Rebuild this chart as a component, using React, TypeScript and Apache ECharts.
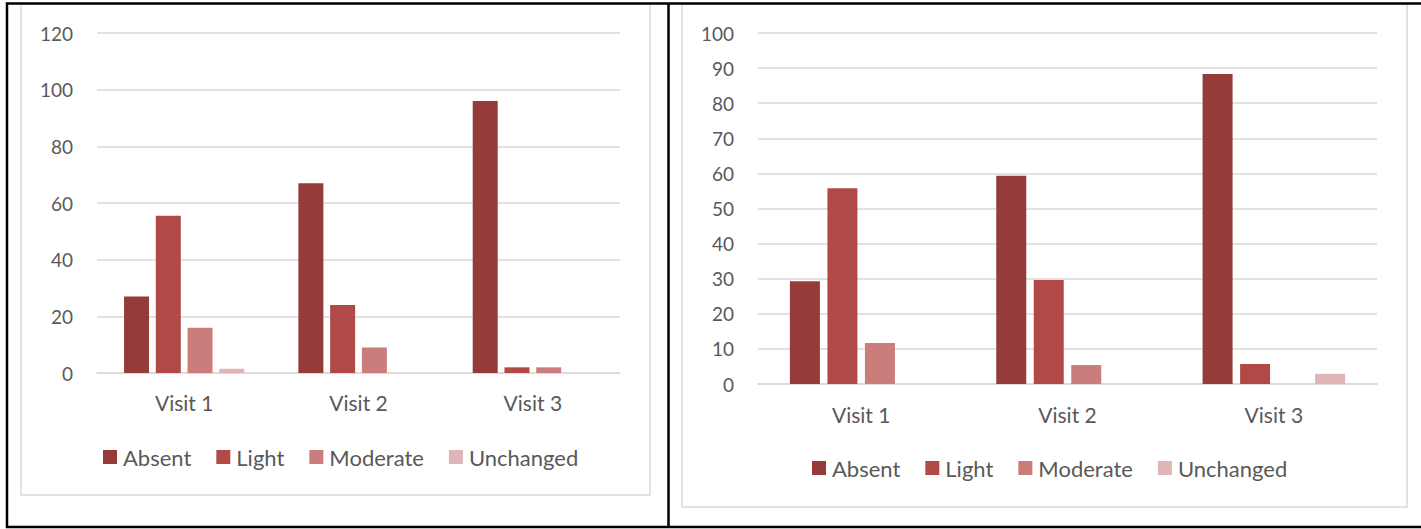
import React, { useEffect, useRef } from "react";
import * as echarts from "echarts";

const categories = ["Visit 1", "Visit 2", "Visit 3"];
const seriesNames = ["Absent", "Light", "Moderate", "Unchanged"];
const colors = ["#953B3A", "#B14A47", "#CB7D7B", "#DFB6B5"];

// Left chart values
const leftAbsent = [27, 67, 96];
const leftLight = [55.5, 24, 2];
const leftModerate = [16, 9, 2];
const leftUnchanged = [1.5, 0, 0];

// Right chart values
const rightAbsent = [29.3, 59.3, 88.3];
const rightLight = [55.8, 29.6, 5.7];
const rightModerate = [11.7, 5.4, 0];
const rightUnchanged = [0, 0, 2.9];

const leftTicks = { min: 0, max: 120, interval: 20 };
const rightTicks = { min: 0, max: 100, interval: 10 };

const FONT = "Lato";
const TEXT = "#595959";
const GRID = "#D9D9D9";

export default function App() {
  const ref = useRef<HTMLDivElement>(null);
  useEffect(() => {
    if (!ref.current) return;
    const chart = echarts.init(ref.current, undefined, { renderer: "svg" });
    const leftData = [leftAbsent, leftLight, leftModerate, leftUnchanged];
    const rightData = [rightAbsent, rightLight, rightModerate, rightUnchanged];
    const mkSeries = (data: number[][], idx: number, width: number, gap: string) =>
      data.map((d, i) => ({
        type: "bar",
        name: seriesNames[i],
        xAxisIndex: idx,
        yAxisIndex: idx,
        data: d,
        barWidth: width,
        barGap: gap,
        itemStyle: { color: colors[i] },
      }));
    const xAxisBase = (gridIndex: number, margin: number) => ({
      type: "category",
      gridIndex,
      data: categories,
      axisLine: { show: true, lineStyle: { color: GRID, width: 1.5 } },
      axisTick: { show: false },
      axisLabel: { color: TEXT, fontFamily: FONT, fontSize: 21, margin },
    });
    const yAxisBase = (gridIndex: number, t: any) => ({
      type: "value",
      gridIndex,
      min: t.min,
      max: t.max,
      interval: t.interval,
      axisLine: { show: false },
      axisTick: { show: false },
      splitLine: { lineStyle: { color: GRID, width: 1.5 } },
      axisLabel: { color: TEXT, fontFamily: FONT, fontSize: 19, margin: 24 },
    });
    const legendBase = (left: number, top: number) => ({
      left,
      top,
      padding: 0,
      data: seriesNames,
      icon: "rect",
      itemWidth: 14,
      itemHeight: 14,
      itemGap: 25,
      selectedMode: false,
      textStyle: { color: TEXT, fontFamily: FONT, fontSize: 22, padding: [0, 0, 0, 1] },
    });
    chart.setOption({
      animation: false,
      backgroundColor: "#ffffff",
      grid: [
        { left: 97, right: 1421 - 620, top: 33, bottom: 529 - 373 },
        { left: 758, right: 1421 - 1377, top: 33, bottom: 529 - 384 },
      ],
      xAxis: [xAxisBase(0, 19), xAxisBase(1, 20)],
      yAxis: [yAxisBase(0, leftTicks), yAxisBase(1, rightTicks)],
      legend: [legendBase(103, 446), legendBase(812, 457)],
      series: [
        ...mkSeries(leftData, 0, 25, "27%"),
        ...mkSeries(rightData, 1, 30, "25%"),
      ],
      graphic: [
        {
          type: "rect",
          shape: { x: 21, y: 4, width: 629, height: 491 },
          style: { fill: "none", stroke: GRID, lineWidth: 1.5 },
          silent: true,
        },
        {
          type: "rect",
          shape: { x: 682, y: 4, width: 725, height: 503 },
          style: { fill: "none", stroke: GRID, lineWidth: 1.5 },
          silent: true,
        },
        {
          type: "rect",
          shape: { x: 7, y: 3.5, width: 1420, height: 523.5 },
          style: { fill: "none", stroke: "#000", lineWidth: 2.5 },
          silent: true,
        },
        {
          type: "line",
          shape: { x1: 668.5, y1: 3, x2: 668.5, y2: 528 },
          style: { stroke: "#000", lineWidth: 2.5 },
          silent: true,
        },
      ],
    });
    return () => chart.dispose();
  }, []);
  return (
    <div
      ref={ref}
      style={{ position: "absolute", left: 0, top: 0, width: 1421, height: 529, background: "#fff" }}
    />
  );
}
